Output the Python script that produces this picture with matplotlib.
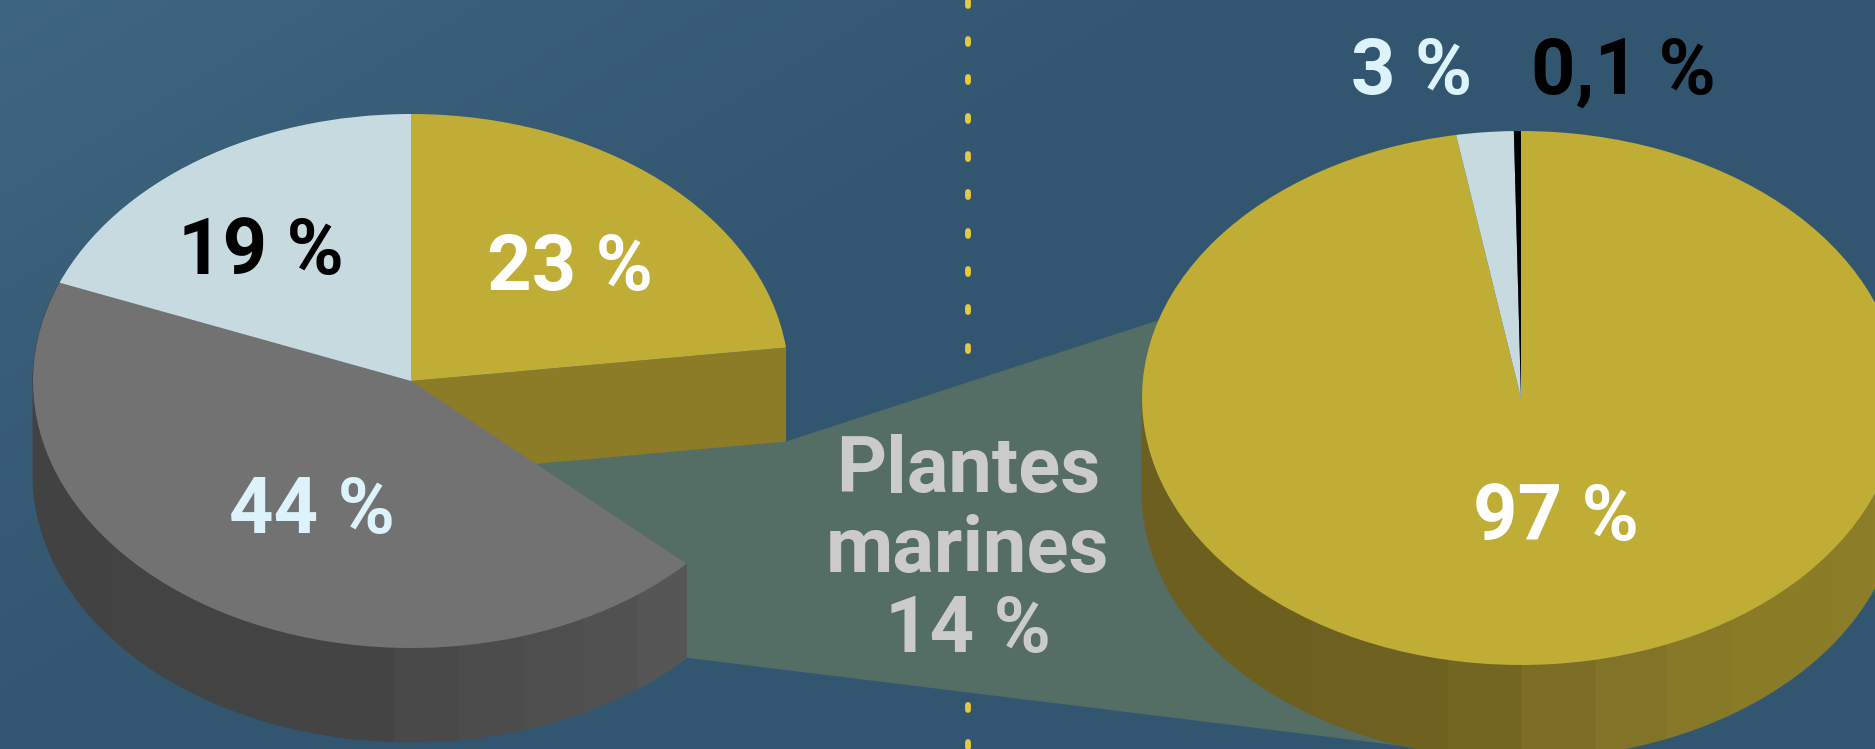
import numpy as np
import matplotlib
matplotlib.use("Agg")
import matplotlib.pyplot as plt
from matplotlib.colors import to_rgb

W, H = 1875, 749

# Data
left_names = ["Gold", "Plantes marines", "Grey", "Light"]
left_shares = [23, 14, 44, 19]
left_labels = ["23 %", "44 %", "19 %"]
right_names = ["Gold", "Light", "Black"]
right_shares = [97.26, 2.44, 0.30]   # as drawn in the picture
right_labels = ["97 %", "3 %", "0,1 %"]
centre_lines = ["Plantes", "marines", "14 %"]

GOLD, LIGHT, GREY, BEAM = "#bfad35", "#c6dae0", "#727272", "#546d65"
PALE = "#ddf3fb"
FONT = dict(family="Roboto", weight="bold")

fig = plt.figure(figsize=(W / 100, H / 100), dpi=100)

# Page axes in pixel coordinates
bg = fig.add_axes([0, 0, 1, 1], zorder=0)
yy, xx = np.mgrid[0:H, 0:W]
t = np.clip(1 - (xx / 1500 + yy / 900), 0, 1) ** 1.5
c0 = np.array(to_rgb("#335670")); c1 = np.array(to_rgb("#3f6681"))
grad = c0 + (c1 - c0) * t[..., None]
bg.imshow(grad, extent=(0, W, H, 0), aspect="auto", zorder=0)
bg.set_xlim(0, W); bg.set_ylim(H, 0); bg.axis("off")


def finish(ax, g):
    cx, cy, rx, ry = g
    ax.set_aspect("auto")
    ax.set_xlim((0 - cx) / rx, (W - cx) / rx)
    ax.set_ylim((cy - H) / ry, cy / ry)
    ax.axis("off")


def rim(frac):
    a = np.asarray(frac) * 2 * np.pi
    return np.sin(a), np.cos(a)


def wall(ax, f0, f1, dz, stops, ramp, n):
    """Outer wall of the drum between two clockwise fractions, in vertical bands."""
    edges = np.linspace(f0, f1, n + 1)
    rgb = np.array([to_rgb(c) for c in ramp])
    for a, b in zip(edges[:-1], edges[1:]):
        x, y = rim(np.linspace(a, b, 12))
        mx = np.sin((a + b) * np.pi)
        col = tuple(np.interp(mx, stops, rgb[:, i]) for i in range(3))
        ax.fill(np.r_[x, x[::-1]], np.r_[y, y[::-1] - dz], color=col, lw=0.6, ec=col, zorder=1)


# geometry of the two drums (pixels)
gL = (411, 381, 378, 267)
gR = (1521, 398, 379, 267)
depth = 94


def to_px(g, f, dz=0):
    cx, cy, rx, ry = g
    x, y = rim(f)
    return cx + rx * x, cy - ry * (y - dz)


# Beam linking the missing slice to the right-hand drum
fL = np.cumsum(left_shares) / sum(left_shares)
dzL = depth / gL[3]
dzR = depth / gR[3]
p_top = to_px(gL, fL[0], dzL)
p_bot = to_px(gL, fL[1], dzL)
q_top = to_px(gR, 0.797)
q_bot = to_px(gR, 0.549, dzR)

# Dashes of the separator
for ys in (np.arange(348, -30, -38.3), np.arange(707, 780, 37.8)):
    for y in ys:
        bg.plot([967.5, 967.5], [y - 2.5, y + 2.5], color="#e3cb3a", lw=4.2,
                solid_capstyle="round", zorder=1)

bg.fill([p_top[0], q_top[0], gR[0], q_bot[0], p_bot[0], gL[0]],
        [p_top[1], q_top[1], gR[1], q_bot[1], p_bot[1], gL[1]],
        color=BEAM, lw=0, zorder=2)

# Left drum
axL = fig.add_axes([0, 0, 1, 1], zorder=2)
x_e, y_e = rim(fL[0])
axL.fill([0, x_e, x_e, 0], [0, y_e, y_e - dzL, -dzL], color="#8c7c27", lw=0, zorder=0.5)
wall(axL, fL[1], fL[2], dzL, [-1, -0.1, 0.1, 0.5, 0.8],
     ["#424242", "#444444", "#4b4b4b", "#505050", "#5a5a5a"], 16)
axL.pie(left_shares, colors=[GOLD, "none", GREY, LIGHT], startangle=90, counterclock=False,
        radius=1, wedgeprops=dict(lw=0))
for w in axL.patches:
    if hasattr(w, "theta1"):
        w.set_zorder(2)
finish(axL, gL)

# Right drum
axR = fig.add_axes([0, 0, 1, 1], zorder=3)
wall(axR, 0.25, 0.75, dzR, [-1, -0.2, 0.2, 0.6, 1],
     ["#6c5f1f", "#6f6120", "#807226", "#8a7c27", "#8d7f29"], 16)
axR.pie(right_shares, colors=[GOLD, LIGHT, "black"], startangle=90, counterclock=False,
        radius=1, wedgeprops=dict(lw=0))
for w in axR.patches:
    if hasattr(w, "theta1"):
        w.set_zorder(2)
finish(axR, gR)

# Text layer
tx = fig.add_axes([0, 0, 1, 1], zorder=5)
tx.set_xlim(0, W); tx.set_ylim(H, 0); tx.axis("off")
size = 56
tx.text(570, 290, left_labels[0], color="white", fontsize=size, ha="center", va="baseline", **FONT)
tx.text(312, 533, left_labels[1], color=PALE, fontsize=size, ha="center", va="baseline", **FONT)
tx.text(261, 274, left_labels[2], color="black", fontsize=size, ha="center", va="baseline", **FONT)
tx.text(1556, 540, right_labels[0], color="white", fontsize=size, ha="center", va="baseline", **FONT)
tx.text(1412, 94, right_labels[1], color=PALE, fontsize=size, ha="center", va="baseline", **FONT)
tx.text(1623, 94, right_labels[2], color="black", fontsize=size, ha="center", va="baseline", **FONT)
for s, y in zip(centre_lines, (492, 572, 652)):
    tx.text(968, y, s, color="#cbcbcb", fontsize=size, ha="center", va="baseline", **FONT)

fig.savefig("out.png", dpi=100)
